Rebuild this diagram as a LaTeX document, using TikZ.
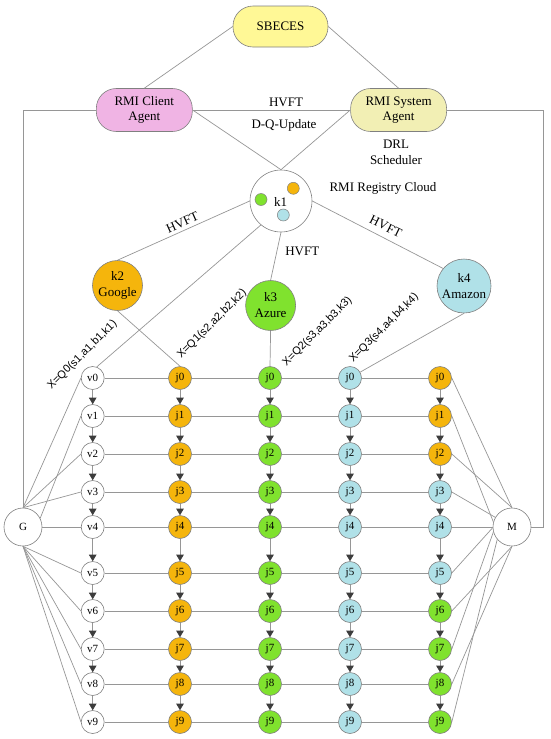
\documentclass[tikz,border=0pt]{standalone}
\usepackage{fontspec}
\setmainfont{Liberation Serif}
\newfontfamily\arialf{Liberation Sans}
\usetikzlibrary{arrows.meta}
\definecolor{corange}{RGB}{245,181,12}
\definecolor{cgreen}{RGB}{128,226,46}
\definecolor{cblue}{RGB}{176,225,232}
\definecolor{cyell}{RGB}{255,248,150}
\definecolor{cpink}{RGB}{240,180,228}
\definecolor{ckhaki}{RGB}{242,239,180}
\definecolor{bordc}{RGB}{128,128,128}
\definecolor{linec}{RGB}{150,150,150}
\definecolor{arrc}{RGB}{60,60,60}
\begin{document}
\begin{tikzpicture}[x=1pt,y=-1pt,
  ln/.style={draw=linec, line width=0.7pt},
  hl/.style={draw=linec, line width=0.9pt},
  arr/.style={draw=linec, line width=0.7pt, -{Triangle[width=7.5pt,length=6.5pt,color=arrc]}},
  sn/.style={circle, draw=bordc, line width=0.6pt, minimum size=23pt, inner sep=0pt, font=\fontsize{11}{12}\selectfont},
  vn/.style={sn, fill=white},
  orn/.style={sn, fill=corange},
  grn/.style={sn, fill=cgreen},
  bln/.style={sn, fill=cblue},
  bigc/.style={circle, draw=bordc, line width=0.6pt, inner sep=0pt, fill=white, minimum size=38pt, font=\fontsize{11}{12}\selectfont},
  kc/.style={circle, draw=bordc, line width=0.6pt, inner sep=0pt, align=center, font=\fontsize{13}{16}\selectfont},
  agent/.style={rectangle, rounded corners=20pt, draw=bordc, line width=0.6pt, minimum width=96pt, minimum height=43pt, align=center, font=\fontsize{13}{15.5}\selectfont},
  lab/.style={font=\fontsize{13}{16}\selectfont, align=center, inner sep=0pt},
  qlab/.style={font=\arialf\fontsize{11}{12}\selectfont, inner sep=0pt},
  dot/.style={circle, draw=bordc, line width=0.5pt, minimum size=12pt, inner sep=0pt}
]
\useasboundingbox (0,0) rectangle (550,739);

% top
\node[agent, fill=cyell, minimum width=95pt, minimum height=41pt] (sb) at (280.5,26.5) {SBECES};
\node[agent, fill=cpink] (cl) at (144.3,110) {RMI Client\\Agent};
\node[agent, fill=ckhaki] (sy) at (398.6,110) {RMI System\\Agent};

% k nodes
\node[kc, fill=white, minimum size=62pt] (k1) at (281,201) {};
\node[dot, fill=corange] (o1) at (293.3,188.3) {};
\node[dot, fill=cgreen] (g1) at (261,199.5) {};
\node[dot, fill=cblue] (b1) at (283.3,215) {};
\node[font=\fontsize{13}{16}\selectfont, inner sep=0pt] (k1t) at (280.7,201.7) {k1};
\node[kc, fill=corange, minimum size=50pt] (k2) at (117.5,285.5) {k2\\Google};
\node[kc, fill=cgreen, minimum size=50pt] (k3) at (270.6,305.5) {k3\\Azure};
\node[kc, fill=cblue, minimum size=54pt] (k4) at (464,286) {k4\\Amazon};

% labels
\node[lab] (l1) at (286,102) {HVFT};
\node[lab] (l2) at (284,125) {D-Q-Update};
\node[lab] (l3) at (396,152) {DRL\\Scheduler};
\node[lab] (l4) at (383,188) {RMI Registry Cloud};
\node[lab, rotate=24] (l5) at (182.4,222.5) {HVFT};
\node[lab] (l6) at (302.3,251) {HVFT};
\node[lab, rotate=-26] (l7) at (385.8,226.5) {HVFT};
\node[qlab, rotate=45] (q0) at (82.4,355) {X=Q0(s1,a1,b1,k1)};
\node[qlab, rotate=45] (q1) at (212,324) {X=Q1(s2,a2,b2,k2)};
\node[qlab, rotate=45] (q2) at (317.4,331.7) {X=Q2(s3,a3,b3,k3)};
\node[qlab, rotate=45] (q3) at (384,328) {X=Q3(s4,a4,b4,k4)};

% grid
\foreach \i/\y/\s in {0/378/orn,1/416/orn,2/454/orn,3/492/bln,4/527/bln,5/573/bln,6/611/grn,7/649/grn,8/684/grn,9/722/grn}{
  \node[vn] (v\i) at (92.7,\y) {v\i};
  \node[orn] (a\i) at (180,\y) {j\i};
  \node[grn] (b\i) at (270,\y) {j\i};
  \node[bln] (c\i) at (350,\y) {j\i};
  \node[\s] (d\i) at (440,\y) {j\i};
  \draw[hl] (v\i) -- (a\i) -- (b\i) -- (c\i) -- (d\i);
}
\foreach \i in {0,...,8}{
  \pgfmathtruncatemacro{\j}{\i+1}
  \draw[arr] (v\i) -- (v\j);
  \draw[arr] (a\i) -- (a\j);
  \draw[arr] (b\i) -- (b\j);
  \draw[arr] (c\i) -- (c\j);
  \draw[arr] (d\i) -- (d\j);
}

\node[bigc] (G) at (23,527) {G};
\node[bigc] (M) at (512,527) {M};

% top connections
\draw[ln] (sb.west) -- (cl.north);
\draw[ln] (sb.east) -- (sy.north);
\draw[ln] (cl) -- (sy);
\draw[ln] (cl.east) -- (k1.north);
\draw[ln] (sy.west) -- (k1.north);
\coordinate (lc) at (23,110);
\coordinate (rc) at (543,110);
\draw[ln] (cl.west) -- (lc) -- (G.north);
\draw[ln] (sy.east) -- (rc) -- (rc |- M) -- (M.east);

% k connections
\draw[ln] (k1.180) -- (k2.north);
\draw[ln] (k1.south) -- (k3.north);
\draw[ln] (k1.east) -- (k4.140);
\draw[ln] (k1.-130) -- (v0.70);
\draw[ln] (k2.south) -- (a0.north);
\draw[ln] (k3.south) -- (b0.north);
\draw[ln] (k4.south) -- (c0.30);

% G connections
\draw[ln] (G.north) -- (v0.west);
\draw[ln] (G.27) -- (v1.west);
\draw[ln] (G.north) -- (v2.west);
\draw[ln] (G.north) -- (v3.west);
\draw[ln] (G) -- (v4);
\foreach \i in {5,...,9}{ \draw[ln] (G.south) -- (v\i.west); }

% M connections
\draw[ln] (d0.east) -- (M.north);
\draw[ln] (d1.east) -- (M.165);
\draw[ln] (d2.east) -- (M.north);
\draw[ln] (d3.east) -- (M.150);
\draw[ln] (d4) -- (M);
\draw[ln] (d5.east) -- (M.182);
\draw[ln] (d6.east) -- (M.south);
\draw[ln] (d7.east) -- (M.195);
\draw[ln] (d8.east) -- (M.south);
\draw[ln] (d9.east) -- (M.220);
\end{tikzpicture}
\end{document}
